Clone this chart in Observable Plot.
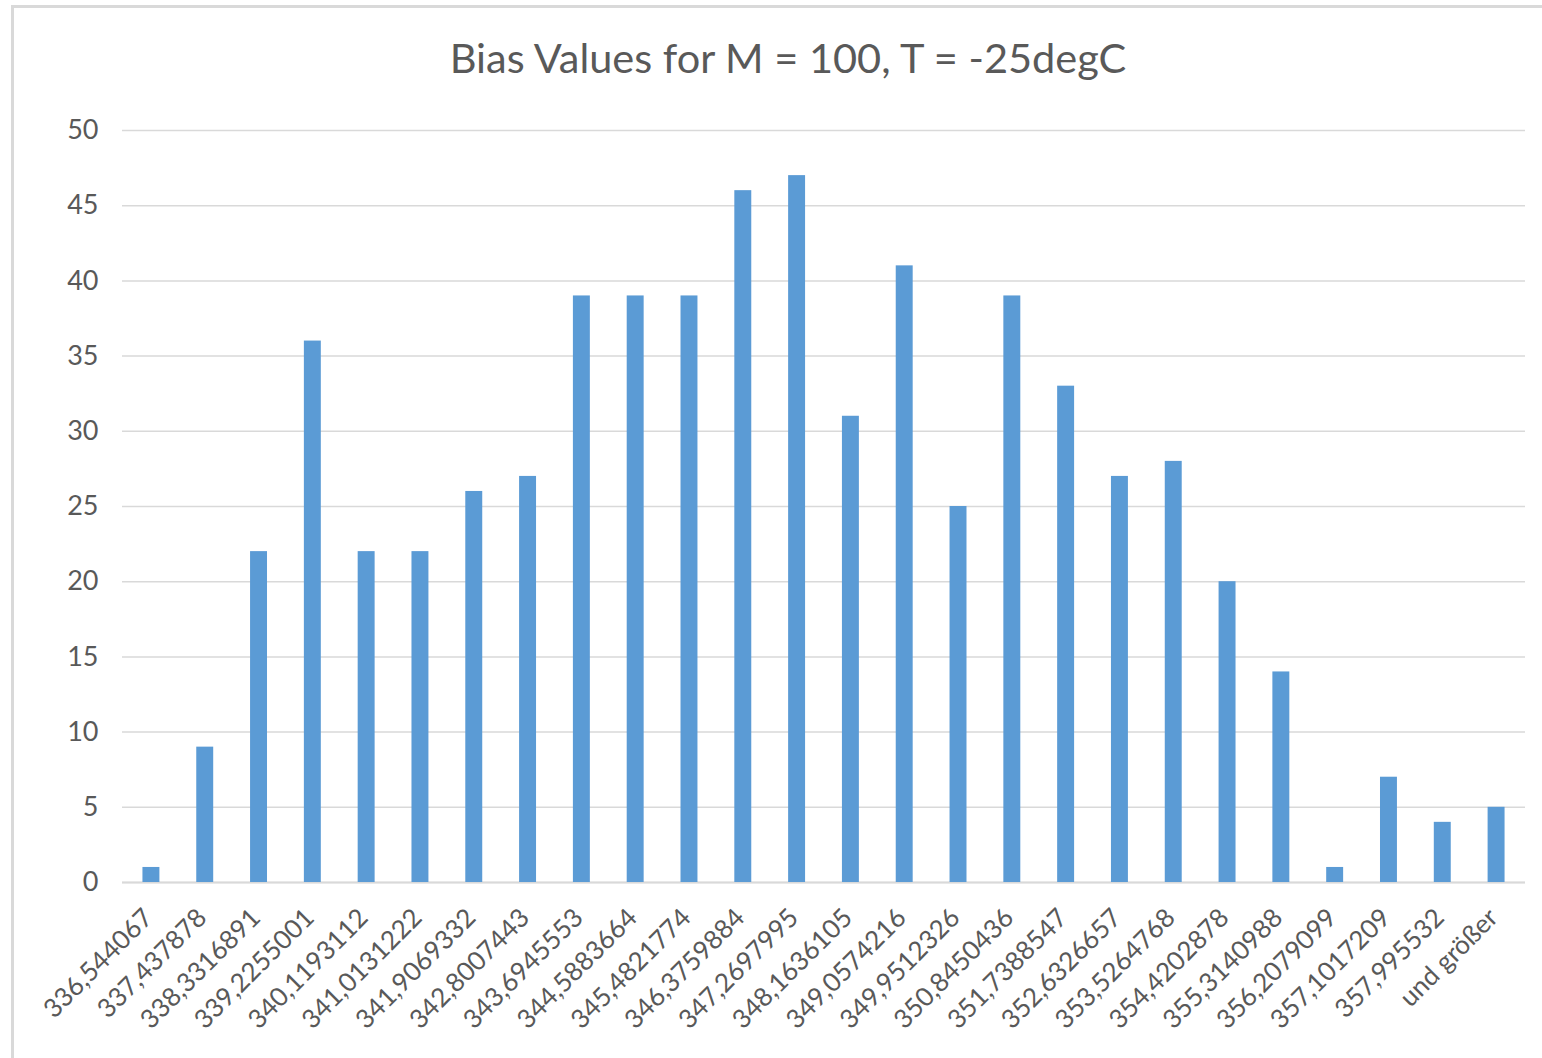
<!DOCTYPE html>
<html>
<head>
<meta charset="utf-8">
<script src="https://cdn.jsdelivr.net/npm/d3@7"></script>
<script src="https://cdn.jsdelivr.net/npm/@observablehq/plot@0.6"></script>
<style>
  html, body { margin: 0; padding: 0; background: #fff; overflow: hidden; width: 1542px; height: 1058px; }
  #frame { position: absolute; left: 11px; top: 5px; width: 1600px; height: 1100px; border: 3px solid #d9d9d9; box-sizing: border-box; }
  #title { position: absolute; left: 0; width: 1576px; top: 32px; text-align: center; font-family: Lato, "Open Sans", sans-serif; font-size: 41.5px; color: #595959; white-space: nowrap; }
  #chart { position: absolute; left: 0; top: 100px; }
  #chart svg { font-family: Lato, "Open Sans", sans-serif; }
</style>
</head>
<body>
<div id="frame"></div>
<div id="title">Bias Values for M = 100, T = -25degC</div>
<div id="chart"></div>
<script>
const bins = ["336,544067","337,437878","338,3316891","339,2255001","340,1193112","341,0131222","341,9069332","342,8007443","343,6945553","344,5883664","345,4821774","346,3759884","347,2697995","348,1636105","349,0574216","349,9512326","350,8450436","351,7388547","352,6326657","353,5264768","354,4202878","355,3140988","356,2079099","357,1017209","357,995532","und größer"];
const counts = [1, 9, 22, 36, 22, 22, 26, 27, 39, 39, 39, 46, 47, 31, 41, 25, 39, 33, 27, 28, 20, 14, 1, 7, 4, 5];
const yTicks = [0, 5, 10, 15, 20, 25, 30, 35, 40, 45, 50];

const data = bins.map((b, i) => ({bin: b, count: counts[i]}));

const chart = Plot.plot({
  width: 1542,
  height: 958,
  marginTop: 30,
  marginBottom: 176,
  marginLeft: 122,
  marginRight: 17,
  style: {fontSize: "27px", color: "#595959", background: "transparent"},
  x: {domain: bins, paddingInner: 0.685, paddingOuter: 0.38, round: false, label: null},
  y: {domain: [0, 50], label: null},
  marks: [
    Plot.gridY(yTicks, {stroke: "#d9d9d9", strokeOpacity: 1, strokeWidth: 1.5}),
    Plot.ruleY([0], {stroke: "#d9d9d9", strokeWidth: 2}),
    Plot.barY(data, {x: "bin", y: "count", fill: "#5b9bd5"}),
    Plot.axisY(yTicks, {tickSize: 0, tickPadding: 24, fill: "#595959", fontSize: 27}),
    Plot.axisX({tickSize: 0, tickRotate: -45, tickPadding: 31, dx: -3, fill: "#595959", fontSize: 26})
  ]
});
document.getElementById("chart").appendChild(chart);
</script>
</body>
</html>
